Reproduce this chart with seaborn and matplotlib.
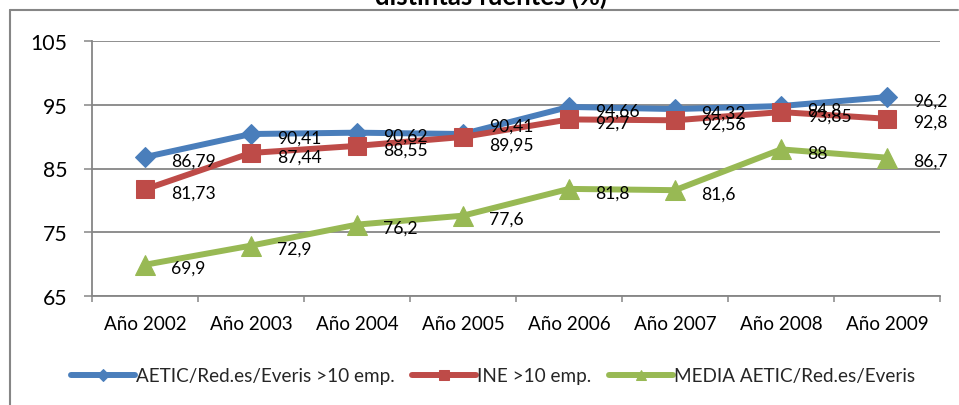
import matplotlib
matplotlib.use("Agg")
import matplotlib.pyplot as plt
from matplotlib.lines import Line2D
from matplotlib.ticker import FixedLocator
import seaborn as sns
import pandas as pd

# Data
years = ["Año 2002", "Año 2003", "Año 2004", "Año 2005",
         "Año 2006", "Año 2007", "Año 2008", "Año 2009"]
aetic = [86.79, 90.41, 90.62, 90.41, 94.66, 94.32, 94.8, 96.2]
ine = [81.73, 87.44, 88.55, 89.95, 92.7, 92.56, 93.85, 92.8]
media = [69.9, 72.9, 76.2, 77.6, 81.8, 81.6, 88, 86.7]
series_names = ["AETIC/Red.es/Everis >10 emp.", "INE >10 emp.", "MEDIA AETIC/Red.es/Everis"]
y_ticks = [65, 75, 85, 95, 105]
title_line = "distintas fuentes (%)"

df = pd.DataFrame({
    "year": years * 3,
    "value": aetic + ine + media,
    "series": [series_names[0]] * 8 + [series_names[1]] * 8 + [series_names[2]] * 8,
})

sns.set_style("white")
plt.rcParams["font.family"] = ["Lato", "DejaVu Sans"]

W, H, DPI = 959, 406, 100
fig = plt.figure(figsize=(W / DPI, H / DPI), dpi=DPI)
ax = fig.add_axes([92 / W, (H - 297) / H, (940 - 92) / W, (297 - 42) / H])

styles = {
    series_names[0]: dict(color="#4A7EBB", marker="D", markersize=10.5),
    series_names[1]: dict(color="#BE4B48", marker="s", markersize=13.5),
    series_names[2]: dict(color="#98B954", marker="^", markersize=14),
}
grey = "#868686"

for name in series_names:
    st = styles[name]
    sub = df[df["series"] == name]
    sns.lineplot(data=sub, x="year", y="value", ax=ax, sort=False,
                 color=st["color"], linewidth=4.3, marker=st["marker"],
                 markersize=st["markersize"], markeredgecolor=st["color"],
                 markerfacecolor=st["color"], label=name, zorder=3)

# value labels to the right of each point (px nudges for crowded points)
nudge = {(series_names[0], 3): -12, (series_names[1], 3): 4}
for name in series_names:
    sub = df[df["series"] == name].reset_index(drop=True)
    for i, v in enumerate(sub["value"]):
        dy = nudge.get((name, i), 0)
        txt = f"{v:g}".replace(".", ",")
        ax.annotate(txt, (i, v), xytext=(19, -6 - dy * 0.72),
                    textcoords="offset points", ha="left", va="baseline",
                    fontsize=12.6, color="black", zorder=5,
                    annotation_clip=False)

ax.set_ylim(65, 105)
ax.set_yticks(y_ticks)
ax.set_xlim(-0.5, len(years) - 0.5)
ax.xaxis.set_minor_locator(FixedLocator([i - 0.5 for i in range(len(years) + 1)]))
ax.yaxis.grid(True, color=grey, linewidth=1.3)
ax.set_axisbelow(True)
ax.set_xlabel("")
ax.set_ylabel("")

for s in ["top", "right"]:
    ax.spines[s].set_visible(False)
for s in ["left", "bottom"]:
    ax.spines[s].set_color(grey)
    ax.spines[s].set_linewidth(1.3)

ax.tick_params(axis="y", which="major", direction="out", length=5.8, width=1.1,
               color=grey, pad=12, labelsize=15.3, labelcolor="black", left=True)
ax.tick_params(axis="x", which="major", length=0, pad=14, labelsize=13.6,
               labelcolor="black")
ax.tick_params(axis="x", which="minor", direction="out", length=4.3, width=1.1,
               color=grey, bottom=True)

ax.legend(loc="center", bbox_to_anchor=(493 / W, (H - 377) / H),
          bbox_transform=fig.transFigure, ncol=3, frameon=False,
          fontsize=13.6, handlelength=3.4, handletextpad=0.05,
          columnspacing=0.9, markerscale=0.55)

fig.text(491 / W, 1 - 5 / H, title_line, ha="center", va="baseline",
         fontsize=18.5, fontweight="bold", color="black")

# outer chart border
fig.add_artist(Line2D([10 / W, 958 / W], [1 - 11 / H, 1 - 11 / H],
                      transform=fig.transFigure, color=grey, linewidth=1.5))
fig.add_artist(Line2D([10 / W, 10 / W], [0, 1 - 11 / H],
                      transform=fig.transFigure, color=grey, linewidth=1.5))

fig.savefig("out.png", dpi=DPI)
